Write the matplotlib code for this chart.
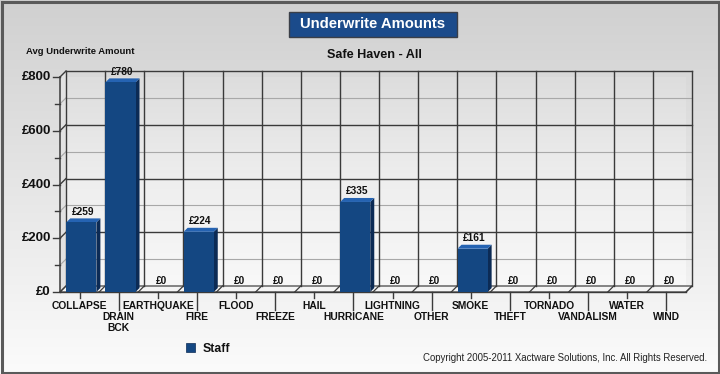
import numpy as np
import matplotlib
matplotlib.use("Agg")
import matplotlib.pyplot as plt
from matplotlib.patches import Rectangle, Polygon

plt.rcParams['font.family'] = ['Liberation Sans', 'DejaVu Sans']

# ---------------- data ----------------
categories = ["COLLAPSE", "DRAIN\nBCK", "EARTHQUAKE", "FIRE", "FLOOD", "FREEZE", "HAIL",
              "HURRICANE", "LIGHTNING", "OTHER", "SMOKE", "THEFT", "TORNADO",
              "VANDALISM", "WATER", "WIND"]
values = [259, 780, 0, 224, 0, 0, 0, 335, 0, 0, 161, 0, 0, 0, 0, 0]
y_ticks = [0, 200, 400, 600, 800]
y_tick_labels = ["£0", "£200", "£400", "£600", "£800"]
series_name = "Staff"
title = "Underwrite Amounts"
subtitle = "Safe Haven - All"
y_title = "Avg Underwrite Amount"
copyright_text = "Copyright 2005-2011 Xactware Solutions, Inc. All Rights Reserved."

W, H = 720, 374
fig = plt.figure(figsize=(W / 100, H / 100), dpi=100)


def fx(x):
    return x / W


def fy(y):
    return 1 - y / H


# background gradient
bg = fig.add_axes([0, 0, 1, 1], zorder=-10)
grad = np.linspace(0, 1, 256).reshape(-1, 1)
bg.imshow(grad, cmap=matplotlib.colors.LinearSegmentedColormap.from_list(
    "bg", ["#d0d0d0", "#e6e6e6", "#fbfbfb"]), aspect="auto", extent=[0, 1, 0, 1],
    origin="upper")
bg.set_xlim(0, 1)
bg.set_ylim(0, 1)
bg.axis("off")
# border
bg.add_patch(Rectangle((1.5 / W, 1.5 / H), 1 - 3 / W, 1 - 3 / H, fill=False,
                       ec="#5a5a5a", lw=2.2, transform=bg.transAxes))

# main axes (front plane)
L, R, T, B = 60, 686, 77, 292
ax = fig.add_axes([fx(L), fy(B), (R - L) / W, (B - T) / H])
n = len(categories)
ymax = 800
ax.set_xlim(0, n)
ax.set_ylim(0, ymax)
ax.axis("off")

upx = n / (R - L)          # data units per px in x
vpx = ymax / (B - T)       # data units per px in y
dx, dy = 6 * upx, 6 * vpx  # wall depth
bdx, bdy = 4 * upx, 4 * vpx  # bar depth

# back wall gradient
ax.imshow(grad, cmap=matplotlib.colors.LinearSegmentedColormap.from_list(
    "wall", ["#dcdcdc", "#eeeeee", "#f8f8f8"]), aspect="auto",
    extent=[dx, n + dx, dy, ymax + dy], origin="upper", zorder=0)
ax.set_xlim(0, n)
ax.set_ylim(0, ymax)

# left wall
ax.add_patch(Polygon([(0, 0), (dx, dy), (dx, ymax + dy), (0, ymax)], closed=True,
                     fc="#e2e2e2", ec="none", zorder=0.5, clip_on=False))
# floor
ax.add_patch(Polygon([(0, 0), (n, 0), (n + dx, dy), (dx, dy)], closed=True,
                     fc="#f4f4f4", ec="#444444", lw=0.9, zorder=1, clip_on=False))

# horizontal gridlines
for v in range(100, ymax + 1, 100):
    major = v % 200 == 0
    col = "#3a3a3a" if major else "#a8a8a8"
    lw = 1.0 if major else 0.8
    ax.plot([dx, n + dx], [v + dy, v + dy], color=col, lw=lw, zorder=1, clip_on=False)
    ax.plot([0, dx], [v, v + dy], color=col, lw=lw, zorder=1, clip_on=False)
# vertical gridlines & floor diagonals
for k in range(n + 1):
    ax.plot([k + dx, k + dx], [dy, ymax + dy], color="#3a3a3a", lw=1.0, zorder=1,
            clip_on=False)
    ax.plot([k, k + dx], [0, dy], color="#3a3a3a", lw=0.9, zorder=1, clip_on=False)

# front axis lines
ax.plot([0, 0], [0, ymax], color="#3a3a3a", lw=1.1, zorder=3, clip_on=False)
ax.plot([0, n], [0, 0], color="#3a3a3a", lw=1.0, zorder=3, clip_on=False)
for v in range(0, ymax + 1, 100):
    ln = 7 if v % 200 == 0 else 5
    ax.plot([-ln * upx, 0], [v, v], color="#3a3a3a", lw=1.0, zorder=3, clip_on=False)
for v, lab in zip(y_ticks, y_tick_labels):
    ax.text(-9 * upx, v, lab, ha="right", va="center", fontsize=9.5,
            fontweight="bold", color="#111111", clip_on=False)

# bars
front_c, side_c, top_c = "#144782", "#0c2b55", "#2563b2"
x0off, x1off = 0.16, 0.93
for i, v in enumerate(values):
    if v > 0:
        a, b = i + x0off, i + x1off
        ax.add_patch(Polygon([(b, 0), (b + bdx, bdy), (b + bdx, v + bdy), (b, v)],
                             closed=True, fc=side_c, ec="none", zorder=4))
        ax.add_patch(Polygon([(a, v), (b, v), (b + bdx, v + bdy), (a + bdx, v + bdy)],
                             closed=True, fc=top_c, ec="none", zorder=4))
        ax.add_patch(Rectangle((a, 0), b - a, v, fc=front_c, ec="none", zorder=5))
    ax.annotate(f"£{v}", xy=(i + (x0off + x1off) / 2, v), xytext=(1.5, 10.5),
                textcoords="offset pixels", ha="center", va="center", fontsize=7.3,
                fontweight="bold", color="#111111", zorder=6, annotation_clip=False)

# category ticks and labels
for i, lab in enumerate(categories):
    xc = i + 0.5
    if i % 2 == 0:
        ax.plot([xc, xc], [0, -6 * vpx], color="#3a3a3a", lw=1.0, clip_on=False)
        ax.text(xc, -14 * vpx, lab, ha="center", va="center", fontsize=7.4,
                fontweight="bold", color="#111111", clip_on=False)
    else:
        ax.plot([xc, xc], [0, -18 * vpx], color="#3a3a3a", lw=1.0, clip_on=False)
        ax.text(xc, -20.5 * vpx, lab, ha="center", va="top", fontsize=7.4,
                fontweight="bold", color="#111111", linespacing=1.05, clip_on=False)

# title box
bg.add_patch(Rectangle((fx(288.5), fy(37)), (457 - 288.5) / W, (37 - 12.5) / H,
                       fc="#1b4b8b", ec="#3a3f48", lw=1, transform=bg.transAxes, zorder=2))
fig.text(fx(373), fy(24.5), title, ha="center", va="center", fontsize=10.7,
         fontweight="bold", color="white")
fig.text(fx(374), fy(55), subtitle, ha="center", va="center", fontsize=9.1,
         fontweight="bold", color="#111111")
fig.text(fx(26), fy(51), y_title, ha="left", va="center", fontsize=6.8,
         fontweight="bold", color="#111111")

# legend
bg.add_patch(Rectangle((fx(186), fy(352)), 9 / W, 9 / H, fc=front_c, ec="#0c2b55",
                       lw=0.5, transform=bg.transAxes, zorder=2))
fig.text(fx(203), fy(349), series_name, ha="left", va="center", fontsize=8.8,
         fontweight="bold", color="#111111")

fig.text(fx(707), fy(358), copyright_text, ha="right", va="center", fontsize=6.9,
         color="#222222")

fig.savefig("out.png", dpi=100)
